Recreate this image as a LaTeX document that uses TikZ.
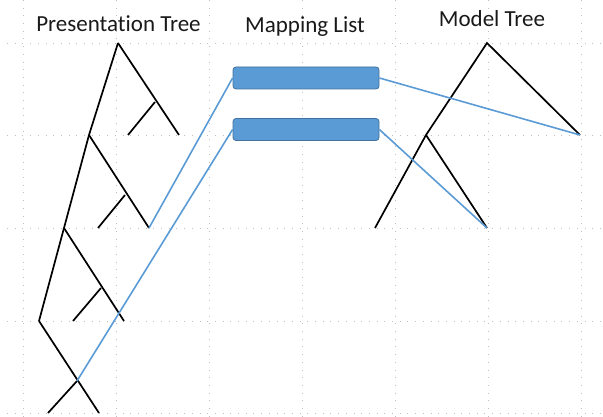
\documentclass[tikz,border=0pt]{standalone}
\usepackage{fontspec}
\setmainfont{Carlito}[Ligatures=CommonOff]
\usepackage{xcolor}
\usetikzlibrary{positioning}

\definecolor{boxblue}{HTML}{5B9BD5}
\definecolor{boxedge}{HTML}{41719C}
\definecolor{gridgray}{HTML}{BFBFBF}

\begin{document}
\begin{tikzpicture}[x=1pt, y=-1pt,
  title/.style={anchor=base, font=\fontsize{23}{27}\selectfont, text=black!90},
  entry/.style={draw=boxedge, fill=boxblue, rounded corners=3pt, minimum width=146pt, minimum height=22pt, line width=0.8pt, inner sep=0pt},
  branch/.style={line width=1.7pt},
  link/.style={draw=boxblue, line width=1.6pt},
  gridline/.style={gridgray, line width=0.9pt, dash pattern=on 0.9pt off 6.8pt}
]
\useasboundingbox (0,0) rectangle (603,417);

% dotted grid
\foreach \gx in {23,116,209,302,395,488,581}
  \draw[gridline] (\gx,0) -- (\gx,417);
\foreach \gy in {43,135,228,321,413}
  \draw[gridline] (7,\gy) -- (603,\gy);

\node[title] (ptitle) at (118.5,32) {Presentation Tree};
\node[title] (ltitle) at (305,33) {Mapping List};
\node[title] (mtitle) at (492,27) {Model Tree};

% presentation tree
\coordinate (p0) at (118,43);
\coordinate (p0m) at (155,102);
\coordinate (p0r) at (179,135);
\coordinate (p0l) at (128,135);
\coordinate (p1) at (89,135);
\coordinate (p1m) at (125,195);
\coordinate (p1r) at (149,228);
\coordinate (p1l) at (98,228);
\coordinate (p2) at (64,228);
\coordinate (p2m) at (101,288);
\coordinate (p2r) at (124,321);
\coordinate (p2l) at (73,321);
\coordinate (p3) at (39,321);
\coordinate (p3m) at (77,381);
\coordinate (p3r) at (99,413);
\coordinate (p3l) at (48,413);

\draw[branch] (p0) -- (p0r);
\draw[branch] (p0m) -- (p0l);
\draw[branch] (p0) -- (p1);
\draw[branch] (p1) -- (p1r);
\draw[branch] (p1m) -- (p1l);
\draw[branch] (p1) -- (p2);
\draw[branch] (p2) -- (p2r);
\draw[branch] (p2m) -- (p2l);
\draw[branch] (p2) -- (p3);
\draw[branch] (p3) -- (p3r);
\draw[branch] (p3m) -- (p3l);

% model tree
\coordinate (m0) at (487,43);
\coordinate (m0r) at (580,135);
\coordinate (m1) at (426,135);
\coordinate (m1l) at (375,228);
\coordinate (m1r) at (487,228);

\draw[branch] (m1l) -- (m1) -- (m0) -- (m0r);
\draw[branch] (m1) -- (m1r);

% mapping list
\node[entry] (e1) at (306,78) {};
\node[entry] (e2) at (306,129.5) {};

\draw[link] (e1.west) -- (p1r);
\draw[link] (e2.west) -- (p3m);
\draw[link] (e1.east) -- (m0r);
\draw[link] (e2.east) -- (m1r);
\end{tikzpicture}
\end{document}
